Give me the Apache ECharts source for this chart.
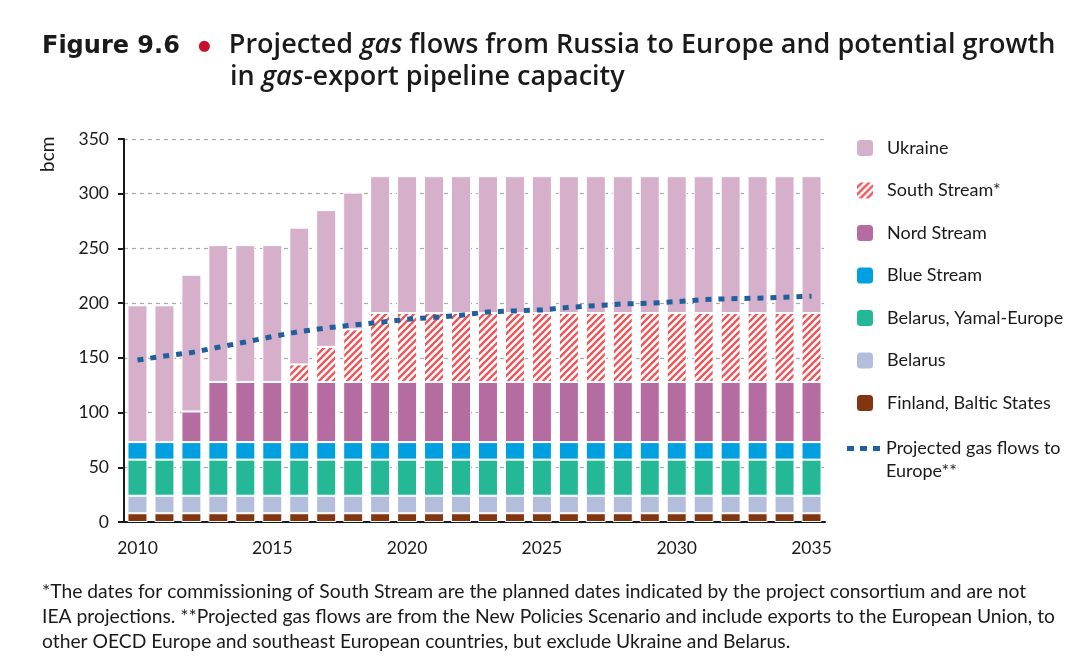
<!DOCTYPE html>
<html><head><meta charset="utf-8">
<script src="https://cdn.jsdelivr.net/npm/echarts@6/dist/echarts.min.js"></script>
<style>html,body{margin:0;padding:0;background:#fff}#c{width:1087px;height:663px}</style>
</head><body><div id="c"></div>
<script>
const years = ['2010','2011','2012','2013','2014','2015','2016','2017','2018','2019','2020','2021','2022','2023','2024','2025','2026','2027','2028','2029','2030','2031','2032','2033','2034','2035'];
const finlandBaltic = [8,8,8,8,8,8,8,8,8,8,8,8,8,8,8,8,8,8,8,8,8,8,8,8,8,8];
const belarus      = [16,16,16,16,16,16,16,16,16,16,16,16,16,16,16,16,16,16,16,16,16,16,16,16,16,16];
const yamalEurope  = [33,33,33,33,33,33,33,33,33,33,33,33,33,33,33,33,33,33,33,33,33,33,33,33,33,33];
const blueStream   = [16,16,16,16,16,16,16,16,16,16,16,16,16,16,16,16,16,16,16,16,16,16,16,16,16,16];
const nordStream   = [0,0,28,55,55,55,55,55,55,55,55,55,55,55,55,55,55,55,55,55,55,55,55,55,55,55];
const southStream  = [0,0,0,0,0,0,16,32,48,63,63,63,63,63,63,63,63,63,63,63,63,63,63,63,63,63];
const ukraine      = [125,125,125,125,125,125,125,125,125,125,125,125,125,125,125,125,125,125,125,125,125,125,125,125,125,125];
const projectedFlows = [148,151.7,154.8,159.7,164.5,169.4,174,177.3,180,182.5,185.3,187,189,192,192.9,193.8,196.2,197.7,199.3,199.9,201.4,203.2,204.1,204.5,205.4,206.3];
const yTicks = [0,50,100,150,200,250,300,350];

const F = 'Lato, sans-serif';
const hatch = document.createElement('canvas');
hatch.width = 7; hatch.height = 7;
(function(){
  const g = hatch.getContext('2d');
  g.fillStyle = '#fff'; g.fillRect(0,0,7,7);
  g.strokeStyle = '#f0555a'; g.lineWidth = 2.4; g.lineCap = 'square';
  g.beginPath();
  g.moveTo(-2,9); g.lineTo(9,-2);
  g.moveTo(-2,2); g.lineTo(2,-2);
  g.moveTo(5,9); g.lineTo(9,5);
  g.stroke();
})();

const chart = echarts.init(document.getElementById('c'));
const barSeries = (name, data, color) => ({
  name, type:'bar', stack:'a', data, barWidth: 20,
  itemStyle:{color, borderColor:'#fff', borderWidth:1},
  emphasis:{disabled:true}
});
const lineName = 'Projected gas flows to\nEurope**';
const T = {fontFamily:'"Open Sans", sans-serif', fontSize:27, fontWeight:600, color:'#1a1a1a'};
const TI = Object.assign({}, T, {fontStyle:'italic'});
chart.setOption({
  animation:false,
  textStyle:{fontFamily:F},
  title:[
    {left:37, top:27, text:'{f|Figure 9.6}{d|●}{t|Projected }{i|gas}{t| flows from Russia to Europe and potential growth}',
     textStyle:{rich:{
       f:{fontFamily:'"DejaVu Sans", sans-serif',fontSize:24,fontWeight:'bold',color:'#1a1a1a',padding:[3,0,0,0]},
       d:{fontSize:22,color:'#c8102e',width:49,align:'center'},
       t:T, i:TI}}},
    {left:225, top:59, text:'{t|in }{i|gas}{t|-export pipeline capacity}',
     textStyle:{rich:{t:T, i:TI}}},
    {left:37, top:574, text:'*The dates for commissioning of South Stream are the planned dates indicated by the project consortium and are not\nIEA projections. **Projected gas flows are from the New Policies Scenario and include exports to the European Union, to\nother OECD Europe and southeast European countries, but exclude Ukraine and Belarus.',
     textStyle:{fontFamily:F,fontSize:19.3,fontWeight:'normal',color:'#1a1a1a',lineHeight:25}}
  ],
  graphic:[{type:'text', x:38, y:172, rotation:Math.PI/2, style:{text:'bcm', fontFamily:F, fontSize:19, fill:'#1a1a1a'}}],
  grid:{left:124, top:139, width:701, height:383, containLabel:false},
  legend:[
    {orient:'vertical', left:850, top:133, itemWidth:18, itemHeight:18, itemGap:22.5,
     data:['Ukraine','South Stream*','Nord Stream','Blue Stream','Belarus, Yamal-Europe','Belarus','Finland, Baltic States'],
     textStyle:{fontFamily:F,fontSize:18,color:'#1a1a1a',padding:[0,0,0,8]}},
    {orient:'vertical', left:842, top:432, itemWidth:34, itemHeight:28,
     data:[{name:lineName, icon:'path://M0,0h7v5h-7zM13,0h7v5h-7zM26,0h7v5h-7zM33.9,27.9h0.1v0.1h-0.1z', itemStyle:{color:'#1f5f9e'}}],
     textStyle:{fontFamily:F,fontSize:18,color:'#1a1a1a',lineHeight:23}}
  ],
  xAxis:{type:'category', data:years,
    axisLine:{lineStyle:{color:'#1a1a1a',width:2}},
    axisTick:{interval:4, alignWithLabel:true, length:8, lineStyle:{color:'#1a1a1a',width:2}},
    axisLabel:{interval:4, fontFamily:F, fontSize:17.5, color:'#1a1a1a', margin:17}},
  yAxis:{type:'value', min:yTicks[0], max:yTicks[yTicks.length-1], interval:50,
    axisLine:{show:true, lineStyle:{color:'#1a1a1a',width:2}},
    axisTick:{show:true, length:6, lineStyle:{color:'#1a1a1a',width:2}},
    axisLabel:{fontFamily:F, fontSize:17.5, color:'#1a1a1a', margin:15},
    splitLine:{lineStyle:{color:'#aaaaaa', type:[4,4], width:1.2}}},
  series:[
    barSeries('Finland, Baltic States', finlandBaltic, '#83350f'),
    barSeries('Belarus', belarus, '#b3bedc'),
    barSeries('Belarus, Yamal-Europe', yamalEurope, '#25b897'),
    barSeries('Blue Stream', blueStream, '#00a0e0'),
    barSeries('Nord Stream', nordStream, '#b56ca0'),
    barSeries('South Stream*', southStream, {image:hatch, repeat:'repeat'}),
    barSeries('Ukraine', ukraine, '#d6b0cb'),
    {name:lineName, type:'line', data:projectedFlows, symbol:'none', z:5,
     lineStyle:{color:'#1f5f9e', width:5, type:[6,7]}, itemStyle:{color:'#1f5f9e'}}
  ]
});
</script></body></html>
